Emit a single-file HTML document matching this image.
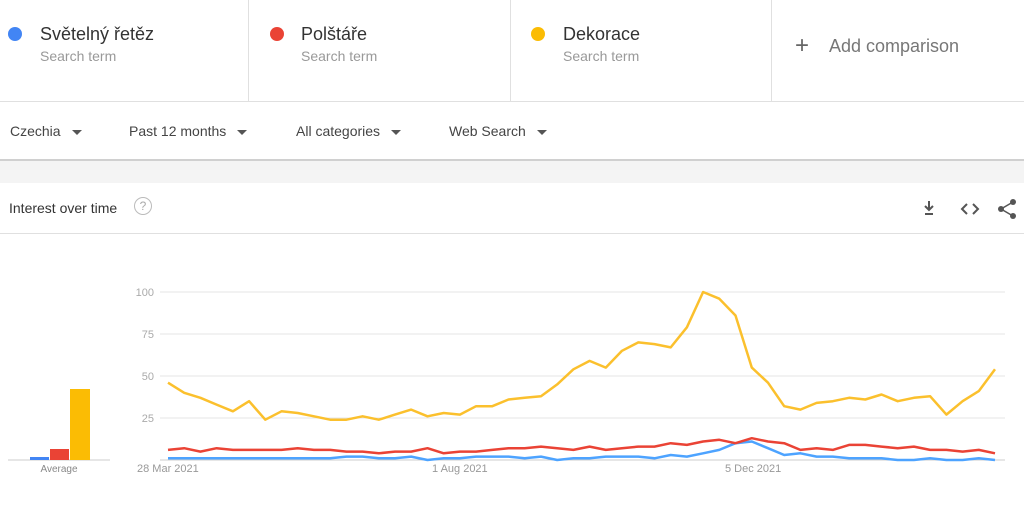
<!DOCTYPE html>
<html><head><meta charset="utf-8"><style>
body{margin:0;width:1024px;height:506px;background:#fff;font-family:"Liberation Sans",sans-serif;overflow:hidden;position:relative}
.top{position:absolute;left:0;top:0;width:1024px;height:101px;border-bottom:1px solid #e0e0e0}
.term{position:absolute;top:0;height:101px;border-right:1px solid #e0e0e0}
.dot{position:absolute;top:27px;width:14px;height:14px;border-radius:50%}
.tn{position:absolute;top:24px;font-size:18px;color:#333}
.ts{position:absolute;top:48px;font-size:14px;color:#999}
.filters{position:absolute;top:102px;left:0;width:1024px;height:57px;border-bottom:2px solid #d0d0d0;box-shadow:0 1px 2px #ddd}
.f{position:absolute;top:21px;font-size:14px;color:#444}
.f:after{content:"";display:inline-block;margin-left:11px;border-left:5px solid transparent;border-right:5px solid transparent;border-top:5px solid #555;vertical-align:middle}
.gray{position:absolute;top:161px;left:0;width:1024px;height:22px;background:#f4f4f4}
.hdr{position:absolute;top:183px;left:0;width:1024px;height:50px;border-bottom:1px solid #e0e0e0}
</style></head><body>
<div class="top">
 <div class="term" style="left:0;width:248px"><div class="dot" style="left:8px;background:#4285f4"></div><div class="tn" style="left:40px">Světelný řetěz</div><div class="ts" style="left:40px">Search term</div></div>
 <div class="term" style="left:249px;width:261px"><div class="dot" style="left:21px;background:#ea4335"></div><div class="tn" style="left:52px">Polštáře</div><div class="ts" style="left:52px">Search term</div></div>
 <div class="term" style="left:511px;width:260px"><div class="dot" style="left:20px;background:#fbbc04"></div><div class="tn" style="left:52px">Dekorace</div><div class="ts" style="left:52px">Search term</div></div>
 <div style="position:absolute;left:795px;top:32px;font-size:24px;color:#666">+</div>
 <div style="position:absolute;left:829px;top:36px;font-size:18px;color:#777">Add comparison</div>
</div>
<div class="filters">
 <div class="f" style="left:10px">Czechia</div><div class="f" style="left:129px">Past 12 months</div><div class="f" style="left:296px">All categories</div><div class="f" style="left:449px">Web Search</div>
</div>
<div class="gray"></div>
<div class="hdr">
 <div style="position:absolute;left:9px;top:17px;font-size:14px;color:#333">Interest over time</div>
 <div style="position:absolute;left:134px;top:14px;width:16px;height:16px;border:1.5px solid #bbb;border-radius:50%;color:#aaa;font-size:12px;text-align:center;line-height:16px">?</div>
 <svg style="position:absolute;left:920px;top:14px" width="100" height="24">
  <path d="M9 4v9M5 9l4 4 4-4M5 17h8" stroke="#555" stroke-width="2" fill="none"/>
  <path d="M47 7l-5 5 5 5M53 7l5 5-5 5" stroke="#555" stroke-width="2" fill="none"/>
  <circle cx="93" cy="5" r="3" fill="#555"/><circle cx="81" cy="12" r="3" fill="#555"/><circle cx="93" cy="19" r="3" fill="#555"/><path d="M93 5L81 12 93 19" stroke="#555" stroke-width="1.5" fill="none"/>
 </svg>
</div>
<svg id="c" style="position:absolute;left:0;top:0" width="1024" height="506"></svg>
<script>
var s=document.getElementById('c'),h='';
var y0=460,k=1.68,x0=168,dx=(995-168)/51;
[100,75,50,25].forEach(function(v){var y=y0-v*k;h+='<line x1="160" x2="1005" y1="'+y+'" y2="'+y+'" stroke="#e6e6e6"/><text x="154" y="'+(y+4)+'" font-size="11" fill="#aaa" text-anchor="end" font-family="Liberation Sans">'+v+'</text>';});
h+='<line x1="160" x2="1005" y1="460" y2="460" stroke="#ccc"/>';
h+='<line x1="8" x2="110" y1="460" y2="460" stroke="#ccc"/>';
h+='<rect x="30" y="457" width="19" height="3" fill="#4285f4"/><rect x="50" y="449" width="19" height="11" fill="#ea4335"/><rect x="70" y="389" width="20" height="71" fill="#fbbc04"/>';
h+='<text x="59" y="472" font-size="10" fill="#888" text-anchor="middle" font-family="Liberation Sans">Average</text>';
[['28 Mar 2021',137],['1 Aug 2021',432],['5 Dec 2021',725]].forEach(function(t){h+='<text x="'+t[1]+'" y="472" font-size="11" fill="#999" font-family="Liberation Sans">'+t[0]+'</text>';});
var Y=[46,40,37,33,29,35,24,29,28,26,24,24,26,24,27,30,26,28,27,32,32,36,37,38,45,54,59,55,65,70,69,67,79,100,96,86,55,46,32,30,34,35,37,36,39,35,37,38,27,35,41,54];
var R=[6,7,5,7,6,6,6,6,7,6,6,5,5,4,5,5,7,4,5,5,6,7,7,8,7,6,8,6,7,8,8,10,9,11,12,10,13,11,10,6,7,6,9,9,8,7,8,6,6,5,6,4];
var B=[1,1,1,1,1,1,1,1,1,1,1,2,2,1,1,2,0,1,1,2,2,2,1,2,0,1,1,2,2,2,1,3,2,4,6,10,11,7,3,4,2,2,1,1,1,0,0,1,0,0,1,0];
function pl(a,c){var p=a.map(function(v,i){return (x0+i*dx).toFixed(1)+','+(y0-v*k).toFixed(1)}).join(' ');h+='<polyline points="'+p+'" fill="none" stroke="'+c+'" stroke-width="2.5" stroke-linejoin="round"/>';}
pl(B,'#4da3ff');pl(R,'#ea4335');pl(Y,'#fbc02d');
s.innerHTML=h;
</script>
</body></html>
